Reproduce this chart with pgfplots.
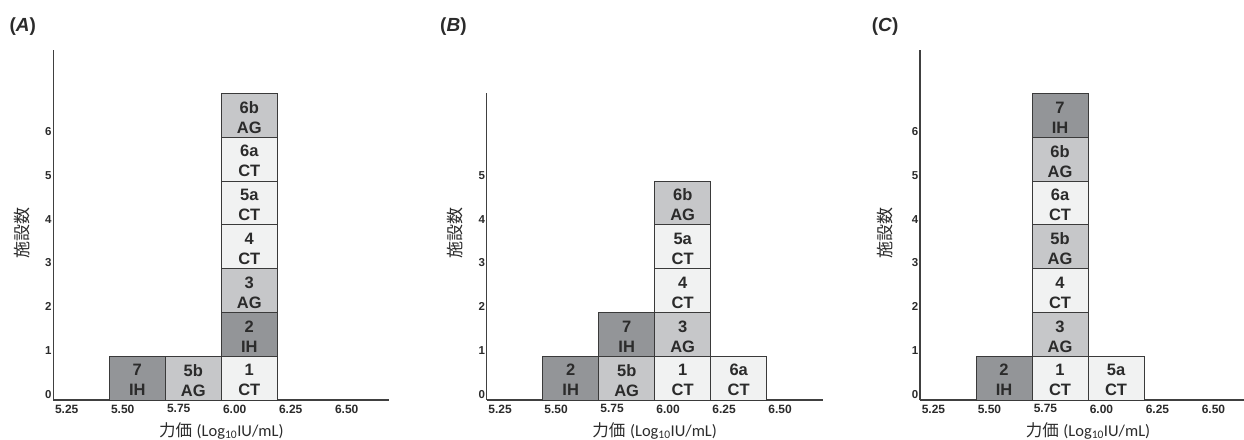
\documentclass[border=0pt]{standalone}
\usepackage{fontspec}
\usepackage{pgfplots}
\pgfplotsset{compat=1.18}
\setmainfont{Liberation Sans}
\newfontfamily\cjk{Noto Sans CJK JP}
\newfontfamily\calib{Carlito}
\definecolor{cIH}{HTML}{939598}
\definecolor{cAG}{HTML}{C6C7C9}
\definecolor{cCT}{HTML}{F1F2F2}
\definecolor{cB}{HTML}{3A3A3A}
\definecolor{cT}{HTML}{2B2B2B}
\definecolor{cAx}{HTML}{404040}
\tikzset{lab/.style={yshift=-24pt, align=center, inner sep=0pt, font=\bfseries\fontsize{16.5}{20}\selectfont, text=cT}}
\pgfplotsset{
  boxbase/.style={ybar, bar width=0.25, bar shift=0pt, draw=cB, line width=0.9pt},
  IH/.style={boxbase, fill=cIH},
  AG/.style={boxbase, fill=cAG},
  CT/.style={boxbase, fill=cCT},
  panel/.style={
    scale only axis, width=336pt,
    axis x line=bottom, axis y line=left,
    axis line style={-, draw=cAx, line width=1.2pt},
    xmin=5.19, xmax=6.69, ymin=0,
    xtick={5.25,5.5,5.75,6,6.25,6.5},
    xticklabels={5.25,5.50,5.75,6.00,6.25,6.50},
    major tick length=0pt,
    tick label style={font=\bfseries\fontsize{12}{14}\selectfont, text=cT},
    xticklabel style={inner sep=0pt, yshift=-4.5pt},
    yticklabel style={inner sep=1.5pt, font=\bfseries\fontsize{11.5}{13}\selectfont},
    xlabel={{\cjk 力価} {\calib (Log\textsubscript{10}IU/mL)}},
    xlabel style={at={(axis description cs:0.5,0)}, anchor=base, yshift=-36pt, font=\fontsize{16.5}{18}\selectfont, text=cT},
    ylabel={施設数},
    clip=false,
  },
}
\begin{document}
\begin{tikzpicture}
\path[use as bounding box, clip] (0,0) rectangle (1244pt,439pt);
% ---------- Panel A ----------
\begin{axis}[panel, at={(53.3pt,39pt)}, anchor=south west, height=350.4pt, ymax=8,
  ytick={0.13,1.13,2.13,3.13,4.13,5.13,6.13}, yticklabels={0,1,2,3,4,5,6},
  ylabel style={at={(axis description cs:-0.094,0.4766)}, anchor=center, font=\cjk\fontsize{17}{18}\selectfont, text=cT}]
\addplot[AG] coordinates {(6.065,7)};
\addplot[CT] coordinates {(6.065,6)};
\addplot[CT] coordinates {(6.065,5)};
\addplot[CT] coordinates {(6.065,4)};
\addplot[AG] coordinates {(6.065,3)};
\addplot[IH] coordinates {(6.065,2)};
\addplot[IH] coordinates {(5.565,1)};
\addplot[AG] coordinates {(5.815,1)};
\addplot[CT] coordinates {(6.065,1)};
\node[lab] at (axis cs:5.565,1) {7\\IH};
\node[lab] at (axis cs:5.815,1) {5b\\AG};
\node[lab] at (axis cs:6.065,1) {1\\CT};
\node[lab] at (axis cs:6.065,2) {2\\IH};
\node[lab] at (axis cs:6.065,3) {3\\AG};
\node[lab] at (axis cs:6.065,4) {4\\CT};
\node[lab] at (axis cs:6.065,5) {5a\\CT};
\node[lab] at (axis cs:6.065,6) {6a\\CT};
\node[lab] at (axis cs:6.065,7) {6b\\AG};
\end{axis}
% ---------- Panel B ----------
\begin{axis}[panel, at={(486.7pt,39pt)}, anchor=south west, height=306.6pt, ymax=7,
  ytick={0.13,1.13,2.13,3.13,4.13,5.13}, yticklabels={0,1,2,3,4,5},
  ylabel style={at={(axis description cs:-0.0943,0.5447)}, anchor=center, font=\cjk\fontsize{17}{18}\selectfont, text=cT}]
\addplot[AG] coordinates {(6.065,5)};
\addplot[CT] coordinates {(6.065,4)};
\addplot[CT] coordinates {(6.065,3)};
\addplot[AG] coordinates {(6.065,2)};
\addplot[IH] coordinates {(5.815,2)};
\addplot[IH] coordinates {(5.565,1)};
\addplot[AG] coordinates {(5.815,1)};
\addplot[CT] coordinates {(6.065,1)};
\addplot[CT] coordinates {(6.315,1)};
\node[lab] at (axis cs:5.565,1) {2\\IH};
\node[lab] at (axis cs:5.815,1) {5b\\AG};
\node[lab] at (axis cs:5.815,2) {7\\IH};
\node[lab] at (axis cs:6.065,1) {1\\CT};
\node[lab] at (axis cs:6.065,2) {3\\AG};
\node[lab] at (axis cs:6.065,3) {4\\CT};
\node[lab] at (axis cs:6.065,4) {5a\\CT};
\node[lab] at (axis cs:6.065,5) {6b\\AG};
\node[lab] at (axis cs:6.315,1) {6a\\CT};
\end{axis}
% ---------- Panel C ----------
\begin{axis}[panel, at={(920pt,39pt)}, anchor=south west, height=350.4pt, ymax=8,
  ytick={0.13,1.13,2.13,3.13,4.13,5.13,6.13}, yticklabels={0,1,2,3,4,5,6},
  ylabel style={at={(axis description cs:-0.104,0.4766)}, anchor=center, font=\cjk\fontsize{17}{18}\selectfont, text=cT}]
\addplot[IH] coordinates {(5.815,7)};
\addplot[AG] coordinates {(5.815,6)};
\addplot[CT] coordinates {(5.815,5)};
\addplot[AG] coordinates {(5.815,4)};
\addplot[CT] coordinates {(5.815,3)};
\addplot[AG] coordinates {(5.815,2)};
\addplot[IH] coordinates {(5.565,1)};
\addplot[CT] coordinates {(5.815,1)};
\addplot[CT] coordinates {(6.065,1)};
\node[lab] at (axis cs:5.565,1) {2\\IH};
\node[lab] at (axis cs:5.815,1) {1\\CT};
\node[lab] at (axis cs:5.815,2) {3\\AG};
\node[lab] at (axis cs:5.815,3) {4\\CT};
\node[lab] at (axis cs:5.815,4) {5b\\AG};
\node[lab] at (axis cs:5.815,5) {6a\\CT};
\node[lab] at (axis cs:5.815,6) {6b\\AG};
\node[lab] at (axis cs:5.815,7) {7\\IH};
\node[lab] at (axis cs:6.065,1) {5a\\CT};
\end{axis}
% panel letters
\tikzset{plab/.style={anchor=west, inner sep=0pt, font=\bfseries\fontsize{19}{21}\selectfont, text=cT}}
\node[plab] at (9.3pt,412.3pt) {(\textit{A})};
\node[plab] at (440pt,412.3pt) {(\textit{B})};
\node[plab] at (871.7pt,412.3pt) {(\textit{C})};
\end{tikzpicture}
\end{document}
